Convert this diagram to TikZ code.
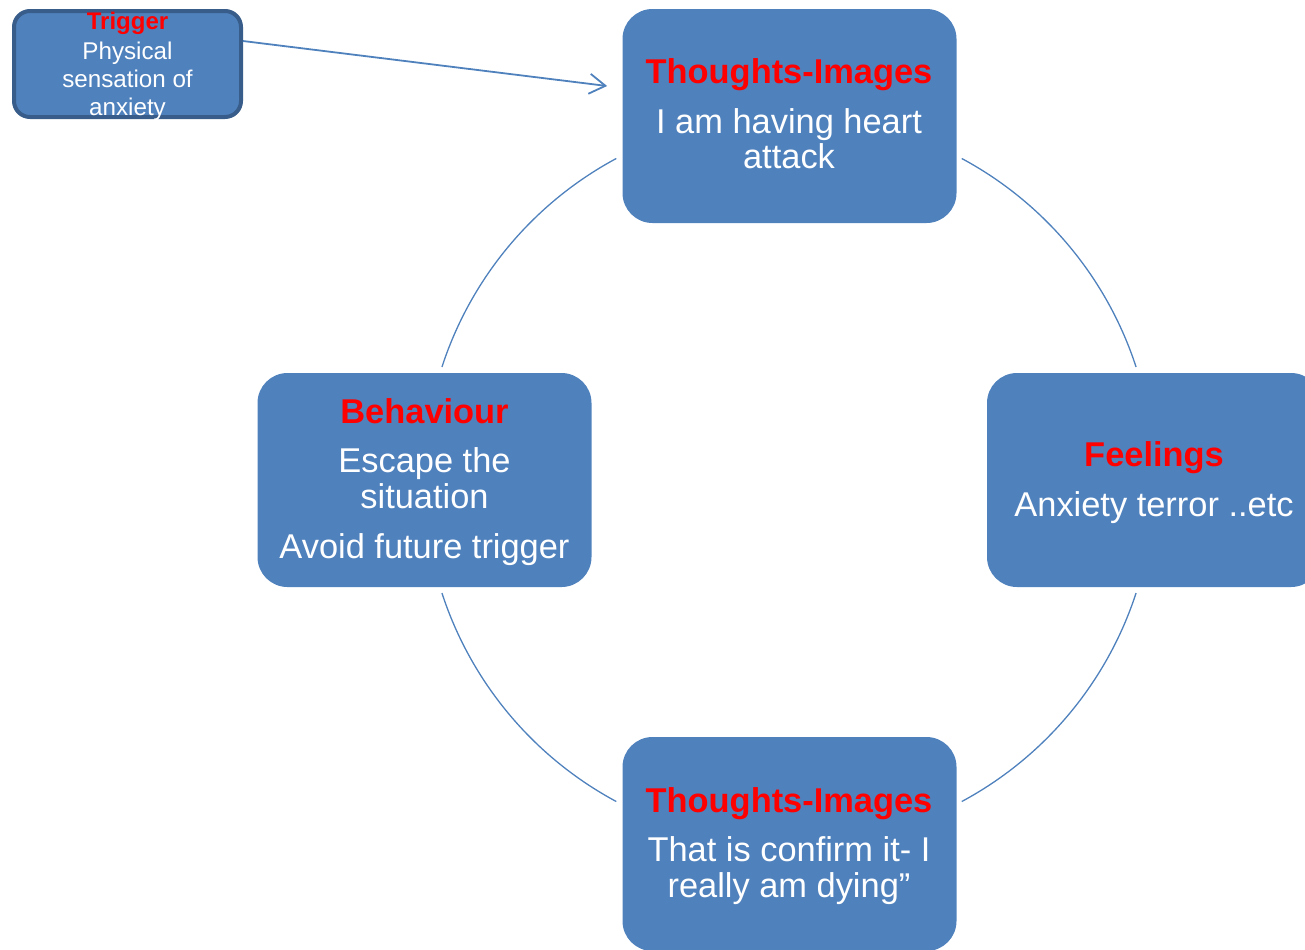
\documentclass[tikz,border=0pt]{standalone}
\usepackage{fontspec}
\setmainfont{Liberation Sans}
\usetikzlibrary{arrows.meta}
\definecolor{boxblue}{RGB}{79,129,189}
\definecolor{darkborder}{RGB}{56,93,138}
\definecolor{titlered}{RGB}{255,0,0}
\tikzset{
  cyclebox/.style={draw=none, fill=boxblue, rounded corners=15pt, minimum width=167pt, minimum height=107pt, inner sep=0pt},
  triggerbox/.style={draw=darkborder, line width=2pt, fill=boxblue, rounded corners=8pt, minimum width=113.5pt, minimum height=53pt, inner sep=0pt},
  ttl/.style={anchor=base, text=titlered, font=\fontsize{17.2}{18}\selectfont\bfseries, inner sep=0pt},
  bodytxt/.style={anchor=base, text=white, font=\fontsize{17.2}{18}\selectfont, inner sep=0pt},
  smallttl/.style={anchor=base, text=titlered, font=\fontsize{12}{13}\selectfont\bfseries, inner sep=0pt},
  smalltxt/.style={anchor=base, text=white, font=\fontsize{12.1}{13}\selectfont, inner sep=0pt},
  arcline/.style={draw=boxblue, line width=0.65pt},
  pointer/.style={draw=boxblue, line width=0.9pt, -{Straight Barb[length=8pt,width=10pt]}},
}
\begin{document}
\begin{tikzpicture}[x=0.5pt,y=-0.5pt]
\useasboundingbox (0,0) rectangle (1305,949);
\begin{scope}
\clip (0,0) rectangle (1305,949);
% boxes
\node[cyclebox] (top) at (789.5,116) {};
\node[cyclebox] (right) at (1154,480) {};
\node[cyclebox] (bottom) at (789.5,844) {};
\node[cyclebox] (left) at (424.5,480) {};
\node[triggerbox] (trig) at (127.5,64) {};
% circle arcs
\coordinate (ctr) at (789,480);
\path (ctr) ++(118.25:182.5pt) coordinate (a1);
\path (ctr) ++(198.04:182.5pt) coordinate (a2);
\path (ctr) ++(298.25:182.5pt) coordinate (a3);
\path (ctr) ++(18.04:182.5pt) coordinate (a4);
\draw[arcline] (a1) arc[start angle=118.25, end angle=161.96, radius=182.5pt];
\draw[arcline] (a2) arc[start angle=198.04, end angle=241.75, radius=182.5pt];
\draw[arcline] (a3) arc[start angle=298.25, end angle=341.96, radius=182.5pt];
\draw[arcline] (a4) arc[start angle=18.04, end angle=61.75, radius=182.5pt];
% trigger arrow
\draw[pointer] ([yshift=11.5pt]trig.east) -- ([xshift=-7.5pt,yshift=15pt]top.west);
% texts
\node[ttl] (t1) at (789,83) {Thoughts-Images};
\node[bodytxt] (t1a) at (789,133) {I am having heart};
\node[bodytxt] (t1b) at (789,168) {attack};
\node[ttl] (t2) at (1154,466) {Feelings};
\node[bodytxt] (t2a) at (1154,516) {Anxiety terror ..etc};
\node[ttl] (t3) at (789,812) {Thoughts-Images};
\node[bodytxt] (t3a) at (789,861) {That is confirm it- I};
\node[bodytxt] (t3b) at (789,897) {really am dying”};
\node[ttl] (t4) at (424.5,423) {Behaviour};
\node[bodytxt] (t4a) at (424.5,472) {Escape the};
\node[bodytxt] (t4b) at (424.5,508) {situation};
\node[bodytxt] (t4c) at (424.5,558) {Avoid future trigger};
\node[smallttl] (g0) at (127.5,29) {Trigger};
\node[smalltxt] (g1) at (127.5,59) {Physical};
\node[smalltxt] (g2) at (127.5,87) {sensation of};
\node[smalltxt] (g3) at (127.5,115) {anxiety};
\end{scope}
\end{tikzpicture}
\end{document}
